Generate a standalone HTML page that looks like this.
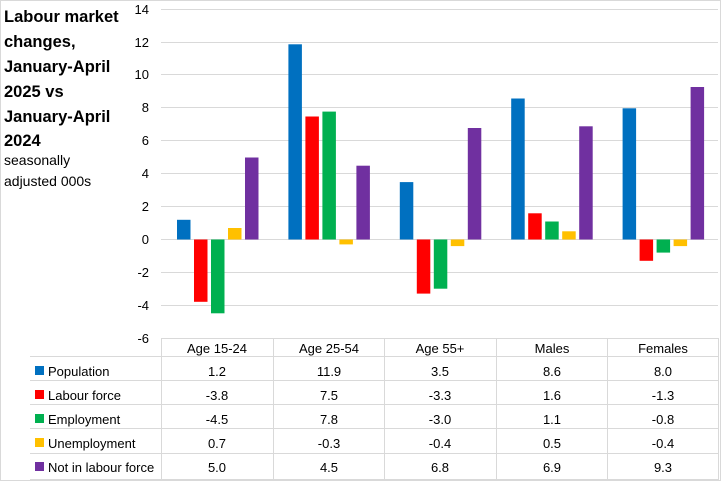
<!DOCTYPE html>
<html><head><style>
body{margin:0;background:#fff;}
svg{display:block;font-family:"Liberation Sans",sans-serif;}
</style></head><body>
<svg width="721" height="481" viewBox="0 0 721 481">
<rect x="0.5" y="0.5" width="720" height="480" fill="#fff" stroke="#d9d9d9"/>
<g font-weight="bold" font-size="16.5" fill="#000">
<text x="4" y="22">Labour market</text>
<text x="4" y="47">changes,</text>
<text x="4" y="72">January-April</text>
<text x="4" y="97">2025 vs</text>
<text x="4" y="122">January-April</text>
<text x="4" y="146">2024</text>
</g>
<g font-size="14" fill="#000">
<text x="4" y="165">seasonally</text>
<text x="4" y="186">adjusted 000s</text>
</g>
<g stroke="#d9d9d9" stroke-width="1">
<line x1="161" x2="718" y1="9.5" y2="9.5"/>
<line x1="161" x2="718" y1="42.5" y2="42.5"/>
<line x1="161" x2="718" y1="74.5" y2="74.5"/>
<line x1="161" x2="718" y1="107.5" y2="107.5"/>
<line x1="161" x2="718" y1="140.5" y2="140.5"/>
<line x1="161" x2="718" y1="173.5" y2="173.5"/>
<line x1="161" x2="718" y1="206.5" y2="206.5"/>
<line x1="161" x2="718" y1="239.5" y2="239.5"/>
<line x1="161" x2="718" y1="272.5" y2="272.5"/>
<line x1="161" x2="718" y1="305.5" y2="305.5"/>
<line x1="161" x2="718" y1="338.5" y2="338.5"/>
</g>
<g font-size="13" fill="#000" text-anchor="end">
<text x="149" y="14">14</text><text x="149" y="47">12</text><text x="149" y="79">10</text>
<text x="149" y="112">8</text><text x="149" y="145">6</text><text x="149" y="178">4</text>
<text x="149" y="211">2</text><text x="149" y="244">0</text><text x="149" y="277">-2</text>
<text x="149" y="310">-4</text><text x="149" y="343">-6</text>
</g>
<g id="bars"></g>
<!-- table lines -->
<g stroke="#d9d9d9">
<line x1="30" x2="718" y1="356.5" y2="356.5"/>
<line x1="30" x2="718" y1="380.5" y2="380.5"/>
<line x1="30" x2="718" y1="404.5" y2="404.5"/>
<line x1="30" x2="718" y1="428.5" y2="428.5"/>
<line x1="30" x2="718" y1="453.5" y2="453.5"/>
<line x1="30" x2="718" y1="479.5" y2="479.5"/>
<line x1="161.5" x2="161.5" y1="338" y2="480"/>
<line x1="273.5" x2="273.5" y1="338" y2="480"/>
<line x1="384.5" x2="384.5" y1="338" y2="480"/>
<line x1="496.5" x2="496.5" y1="338" y2="480"/>
<line x1="607.5" x2="607.5" y1="338" y2="480"/>
<line x1="718.5" x2="718.5" y1="338" y2="480"/>
</g>
<g font-size="13" fill="#000">
<rect x="35" y="366" width="9" height="9" fill="#0070c0"/><text x="48" y="376">Population</text>
<rect x="35" y="390" width="9" height="9" fill="#ff0000"/><text x="48" y="400">Labour force</text>
<rect x="35" y="414" width="9" height="9" fill="#00b050"/><text x="48" y="424">Employment</text>
<rect x="35" y="438" width="9" height="9" fill="#ffc000"/><text x="48" y="448">Unemployment</text>
<rect x="35" y="462" width="9" height="9" fill="#7030a0"/><text x="48" y="472">Not in labour force</text>
</g>
<g font-size="13" fill="#000" text-anchor="middle">
<text x="217" y="353">Age 15-24</text><text x="329" y="353">Age 25-54</text><text x="440" y="353">Age 55+</text><text x="552" y="353">Males</text><text x="663" y="353">Females</text>
<text x="217" y="376">1.2</text><text x="329" y="376">11.9</text><text x="440" y="376">3.5</text><text x="552" y="376">8.6</text><text x="663" y="376">8.0</text>
<text x="217" y="400">-3.8</text><text x="329" y="400">7.5</text><text x="440" y="400">-3.3</text><text x="552" y="400">1.6</text><text x="663" y="400">-1.3</text>
<text x="217" y="424">-4.5</text><text x="329" y="424">7.8</text><text x="440" y="424">-3.0</text><text x="552" y="424">1.1</text><text x="663" y="424">-0.8</text>
<text x="217" y="448">0.7</text><text x="329" y="448">-0.3</text><text x="440" y="448">-0.4</text><text x="552" y="448">0.5</text><text x="663" y="448">-0.4</text>
<text x="217" y="472">5.0</text><text x="329" y="472">4.5</text><text x="440" y="472">6.8</text><text x="552" y="472">6.9</text><text x="663" y="472">9.3</text>
</g>
<g>
<!-- zero y=239.5, 16.4 px/unit; group start = 161+16+111.4*i ; step 17, width 13.5 -->
<rect x="177" y="219.8" width="13.5" height="19.7" fill="#0070c0"/>
<rect x="194" y="239.5" width="13.5" height="62.3" fill="#ff0000"/>
<rect x="211" y="239.5" width="13.5" height="73.8" fill="#00b050"/>
<rect x="228" y="228" width="13.5" height="11.5" fill="#ffc000"/>
<rect x="245" y="157.5" width="13.5" height="82" fill="#7030a0"/>

<rect x="288.4" y="44.3" width="13.5" height="195.2" fill="#0070c0"/>
<rect x="305.4" y="116.5" width="13.5" height="123" fill="#ff0000"/>
<rect x="322.4" y="111.6" width="13.5" height="127.9" fill="#00b050"/>
<rect x="339.4" y="239.5" width="13.5" height="4.9" fill="#ffc000"/>
<rect x="356.4" y="165.7" width="13.5" height="73.8" fill="#7030a0"/>

<rect x="399.8" y="182.1" width="13.5" height="57.4" fill="#0070c0"/>
<rect x="416.8" y="239.5" width="13.5" height="54.1" fill="#ff0000"/>
<rect x="433.8" y="239.5" width="13.5" height="49.2" fill="#00b050"/>
<rect x="450.8" y="239.5" width="13.5" height="6.6" fill="#ffc000"/>
<rect x="467.8" y="128" width="13.5" height="111.5" fill="#7030a0"/>

<rect x="511.2" y="98.5" width="13.5" height="141" fill="#0070c0"/>
<rect x="528.2" y="213.3" width="13.5" height="26.2" fill="#ff0000"/>
<rect x="545.2" y="221.5" width="13.5" height="18" fill="#00b050"/>
<rect x="562.2" y="231.3" width="13.5" height="8.2" fill="#ffc000"/>
<rect x="579.2" y="126.3" width="13.5" height="113.2" fill="#7030a0"/>

<rect x="622.6" y="108.3" width="13.5" height="131.2" fill="#0070c0"/>
<rect x="639.6" y="239.5" width="13.5" height="21.3" fill="#ff0000"/>
<rect x="656.6" y="239.5" width="13.5" height="13.1" fill="#00b050"/>
<rect x="673.6" y="239.5" width="13.5" height="6.6" fill="#ffc000"/>
<rect x="690.6" y="87" width="13.5" height="152.5" fill="#7030a0"/>
</g>
</svg>
</body></html>
